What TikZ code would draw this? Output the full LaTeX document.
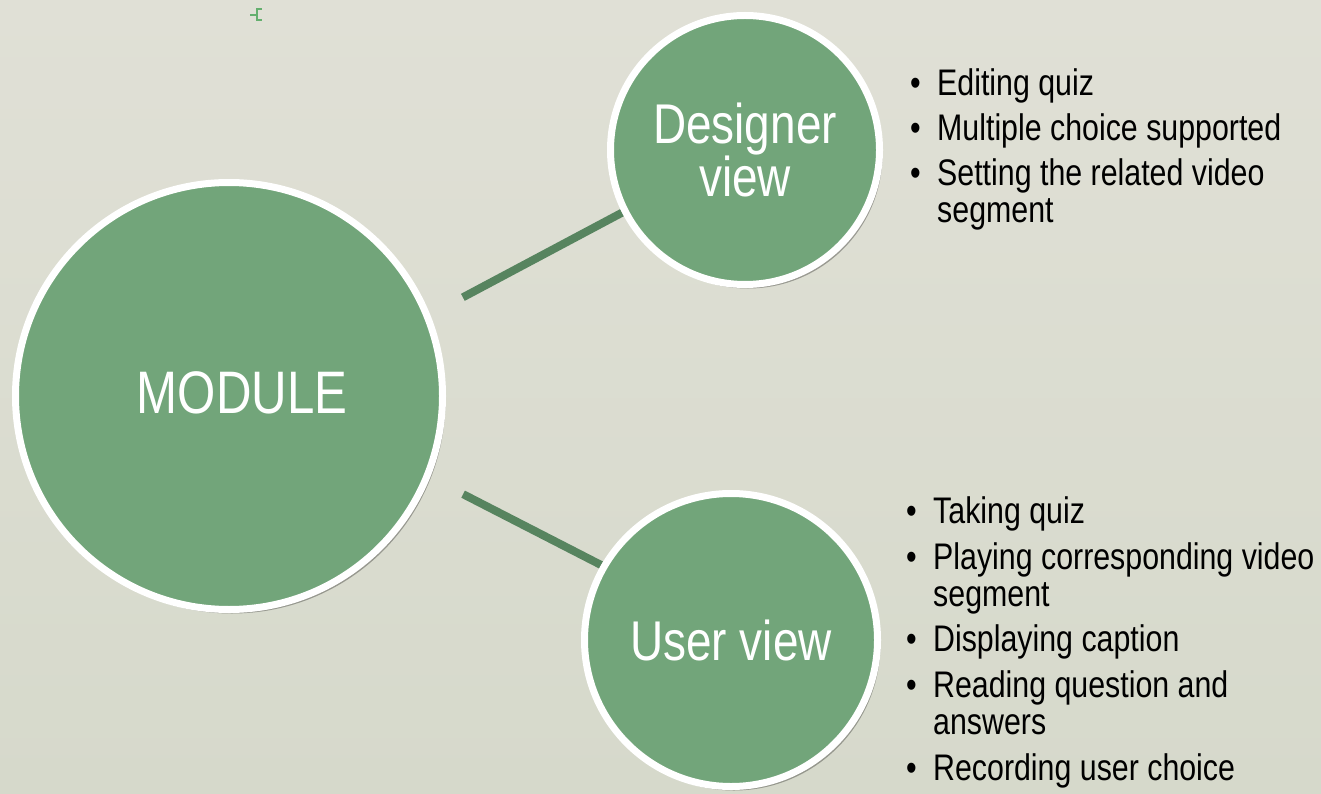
\documentclass[tikz,border=0pt]{standalone}
\usepackage{fontspec}
\setmainfont{Liberation Sans}[FakeStretch=0.82]
\usepackage{xcolor}
\usetikzlibrary{positioning, shadows}

\definecolor{fundoA}{RGB}{224,224,214}
\definecolor{fundoB}{RGB}{214,217,203}
\definecolor{verde}{RGB}{114,165,122}
\definecolor{verdeescuro}{RGB}{87,132,95}
\definecolor{marca}{RGB}{100,175,110}

\pgfdeclarelayer{fundo}
\pgfdeclarelayer{ligacoes}
\pgfsetlayers{fundo,ligacoes,main}

\newcommand{\bul}{\makebox[27pt][l]{\textbullet}}

\begin{document}
\begin{tikzpicture}[x=1pt, y=-1pt,
	bola/.style={circle, draw=white, line width=7pt, fill=verde, inner sep=0pt,
		text=white, align=center,
		drop shadow={shadow xshift=3pt, shadow yshift=-4pt, opacity=0.3, fill=black}},
	titulo/.style={font=\fontsize{56}{52}\selectfont},
	ligacao/.style={draw=verdeescuro, line width=8pt},
	lista/.style={anchor=north west, align=left, inner sep=0pt,
		font=\fontsize{37}{37}\selectfont}]
	\useasboundingbox (0,0) rectangle (1321,794);
	
	% fundo
	\begin{pgfonlayer}{fundo}
		\shade[top color=fundoA, bottom color=fundoB] (0,0) rectangle (1321,794);
		\draw[marca, line width=2pt] (250,15) -- (256.5,15);
		\draw[marca, line width=2pt] (261.5,9.5) -- (256.5,9.5) -- (256.5,20.5) -- (261.5,20.5);
	\end{pgfonlayer}
	
	% circulos
	\node[bola, minimum size=427pt] (module) at (229,396) {};
	\node[text=white, inner sep=0pt, font=\fontsize{60}{60}\selectfont] (moduletxt) at (242,393) {MODULE};
	\node[bola, titulo, minimum size=269pt] (designer) at (745,150) {Designer\\view};
	\node[bola, titulo, minimum size=293pt] (user) at (731,640) {User view};
	
	% ligacoes
	\begin{pgfonlayer}{ligacoes}
		\draw[ligacao, shorten <=37pt] (module.22.5) -- (designer.207.5);
		\draw[ligacao, shorten <=37pt] (module.-22.5) -- (user.150);
	\end{pgfonlayer}
	
	% listas
	\node[lista] (designerlist) at (910,68) {\bul Editing quiz\\[8pt]
		\bul Multiple choice supported\\[8pt]
		\bul Setting the related video\\
		\hspace*{27pt}segment};
	\node[lista] (userlist) at (906,496) {\bul Taking quiz\\[9pt]
		\bul Playing corresponding video\\
		\hspace*{27pt}segment\\[8pt]
		\bul Displaying caption\\[9pt]
		\bul Reading question and\\
		\hspace*{27pt}answers\\[9pt]
		\bul Recording user choice};
\end{tikzpicture}
\end{document}
